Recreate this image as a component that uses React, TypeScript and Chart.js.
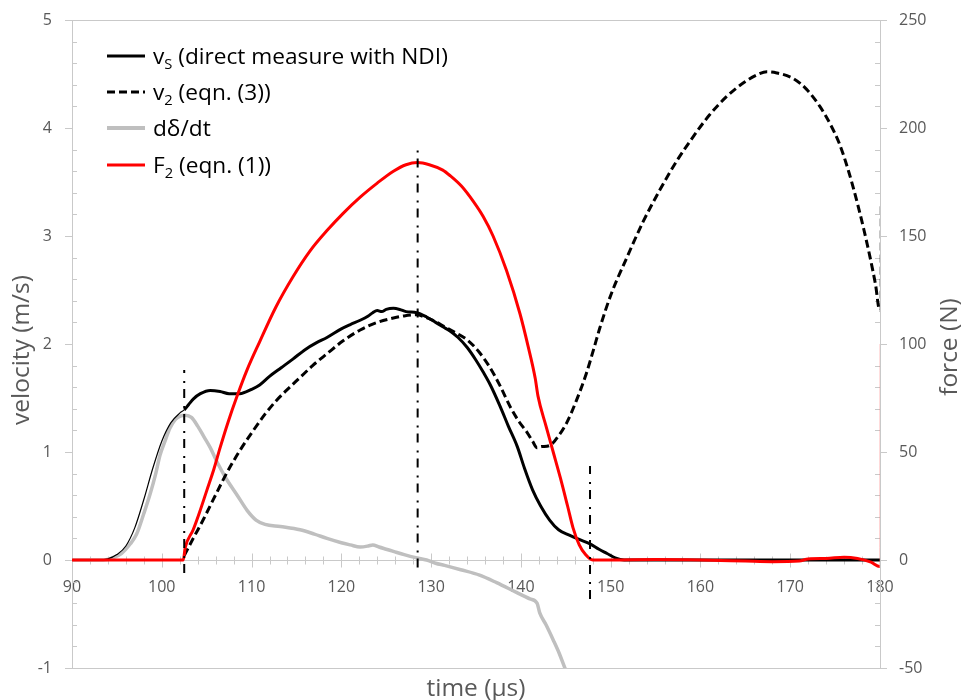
import React, { useEffect, useRef } from "react";
import { Chart, registerables } from "chart.js";

Chart.register(...registerables);

// ---------- DATA ----------
// v_S (direct measure with NDI), m/s
const vsTime = [90, 93, 94, 95, 96, 97, 98, 99, 100, 101, 102, 102.5, 103, 103.5, 104.3, 105.4, 106.5, 107.5, 108.7, 110, 110.9, 112, 113.3, 114.6, 116, 117.2, 118.4, 120, 121, 122.1, 123, 123.5, 124, 124.5, 125, 125.8, 126.5, 127.2, 128.4, 129.5, 130.5, 131.3, 132.1, 133, 134, 135, 135.8, 136.6, 137.7, 138.6, 139.6, 140.4, 141.3, 142.2, 143.2, 144.2, 145.4, 146.5, 147.7, 148.7, 149.6, 150.5, 151.5, 180];
const vsVal = [0, 0, 0.01, 0.05, 0.13, 0.3, 0.56, 0.85, 1.1, 1.27, 1.36, 1.39, 1.44, 1.49, 1.54, 1.57, 1.56, 1.54, 1.54, 1.58, 1.62, 1.7, 1.78, 1.86, 1.95, 2.01, 2.06, 2.14, 2.18, 2.22, 2.26, 2.29, 2.31, 2.3, 2.32, 2.33, 2.32, 2.3, 2.29, 2.25, 2.2, 2.16, 2.12, 2.06, 1.97, 1.85, 1.74, 1.62, 1.42, 1.24, 1.05, 0.85, 0.65, 0.5, 0.37, 0.28, 0.23, 0.19, 0.15, 0.1, 0.06, 0.02, 0, 0];

// v_2 (eqn. (3)), m/s
const v2Time = [102.5, 103.5, 104.6, 105.8, 107.2, 108.6, 110.2, 111.5, 112.8, 114, 115.4, 116.8, 118.4, 120.2, 122.1, 124, 125.8, 127, 128.4, 129.3, 130.2, 131.5, 132.8, 134, 135.3, 136.5, 137.7, 138.8, 139.8, 140.7, 141.3, 141.8, 142.3, 143.2, 144.2, 145.1, 146.2, 147.3, 148.1, 148.8, 150, 151.8, 153.6, 155.5, 157.4, 159.2, 161, 162.9, 165, 166.5, 167.4, 168.5, 170.3, 171.8, 173.3, 174.5, 175.5, 176.5, 177.4, 178.2, 178.9, 179.5, 179.97, 180];
const v2Val = [0.04, 0.2, 0.37, 0.57, 0.8, 1.0, 1.2, 1.35, 1.48, 1.58, 1.69, 1.8, 1.91, 2.03, 2.13, 2.2, 2.24, 2.26, 2.27, 2.25, 2.22, 2.16, 2.1, 2.04, 1.93, 1.79, 1.61, 1.42, 1.28, 1.18, 1.1, 1.04, 1.05, 1.06, 1.15, 1.27, 1.48, 1.73, 1.95, 2.15, 2.45, 2.8, 3.13, 3.43, 3.7, 3.92, 4.12, 4.29, 4.43, 4.5, 4.52, 4.51, 4.46, 4.36, 4.2, 4.03, 3.85, 3.6, 3.33, 3.06, 2.8, 2.55, 2.31, 3.3];

// dδ/dt, m/s
const ddtTime = [90, 93.5, 94.5, 95.5, 96.5, 97.2, 98, 98.7, 99.3, 99.8, 100.4, 100.9, 101.5, 102, 102.6, 103.3, 104, 104.7, 105.4, 106.2, 107.2, 108.4, 109.5, 110.5, 111.5, 113.2, 115.4, 117, 118.4, 120, 121, 122.1, 123, 123.5, 124.2, 125, 125.8, 127, 128.4, 129.5, 130.5, 131.5, 133.3, 135.4, 137.3, 139.5, 141, 141.8, 142.1, 142.8, 143.6, 144.3, 144.9, 145.5];
const ddtVal = [0, 0, 0.02, 0.06, 0.15, 0.24, 0.43, 0.61, 0.79, 0.97, 1.11, 1.22, 1.3, 1.33, 1.34, 1.32, 1.24, 1.14, 1.04, 0.9, 0.75, 0.6, 0.46, 0.37, 0.33, 0.31, 0.28, 0.24, 0.2, 0.16, 0.14, 0.12, 0.13, 0.14, 0.12, 0.1, 0.08, 0.05, 0.02, 0, -0.03, -0.05, -0.09, -0.14, -0.21, -0.3, -0.36, -0.4, -0.49, -0.6, -0.74, -0.87, -1.0, -1.12];

// F_2 (eqn. (1)), N
const f2Time = [90, 102.4, 102.6, 103.5, 104.2, 105, 105.8, 106.5, 107.4, 108.4, 109.5, 110.9, 112.7, 114.6, 116.5, 118.4, 120.2, 122.1, 124, 125.8, 127.2, 128.5, 129.8, 131.3, 132.1, 133.4, 134.7, 135.8, 136.9, 138.4, 139.9, 140.8, 141.6, 141.9, 142.8, 143.6, 144.4, 145.2, 145.8, 146.5, 147.2, 148, 150, 155, 160, 165, 168, 171, 172, 174, 176, 177.5, 179, 179.97, 180];
const f2Val = [0, 0, 5.5, 14, 22, 32, 42, 52, 64, 76, 88, 101, 117, 131, 143, 152.5, 160.5, 168, 174.5, 180, 183, 184, 183, 180.5, 178, 173, 166, 159, 150, 134, 114, 99, 84, 76, 62, 50, 38, 25, 15, 7, 2.5, 0, 0, 0.2, 0, -0.5, -0.8, -0.5, 0.5, 0.7, 1.3, 0.7, -1, -3, 100];

// dash-dot marker lines (time, bottom, top) in m/s
const markerTime = [102.5, 128.5, 147.7];
const markerBottom = [-0.12, -0.07, -0.36];
const markerTop = [1.76, 3.82, 0.87];

// axes
const xMin = 90, xMax = 180, xStep = 10, xMinor = 2;
const vMin = -1, vMax = 5, vStep = 1, vMinor = 0.2;
const fMin = -50, fMax = 250, fStep = 50;

const xTitle = "time (\u03bcs)";
const yTitle = "velocity (m/s)";
const y2Title = "force (N)";

const legendItems = [
  { main: "v", sub: "S", rest: " (direct measure with NDI)" },
  { main: "v", sub: "2", rest: " (eqn. (3))" },
  { main: "d\u03b4/dt", sub: "", rest: "" },
  { main: "F", sub: "2", rest: " (eqn. (1))" },
];

const zip = (xs: number[], ys: number[]) => xs.map((x, i) => ({ x, y: ys[i] }));

const FONT = "'Open Sans', 'DejaVu Sans', sans-serif";
const AXIS_GRAY = "#c9c9c9";
const TEXT_GRAY = "#595959";

const axesPlugin = {
  id: "excelAxes",
  beforeDatasetsDraw(chart: any) {
    const { ctx, chartArea: a, scales } = chart;
    const y = scales.y;
    const x = scales.x;
    const r = (v: number) => Math.round(v) + 0.5;
    ctx.save();
    ctx.strokeStyle = AXIS_GRAY;
    ctx.lineWidth = 1;
    ctx.beginPath();
    // frame
    ctx.moveTo(r(a.left), a.top); ctx.lineTo(r(a.left), a.bottom);
    ctx.moveTo(r(a.right), a.top); ctx.lineTo(r(a.right), a.bottom);
    ctx.moveTo(a.left, r(a.top)); ctx.lineTo(a.right, r(a.top));
    ctx.moveTo(a.left, r(a.bottom)); ctx.lineTo(a.right, r(a.bottom));
    const y0 = r(y.getPixelForValue(0));
    ctx.moveTo(a.left, y0); ctx.lineTo(a.right, y0);
    // y ticks
    const nMinor = Math.round((vMax - vMin) / vMinor);
    for (let i = 0; i <= nMinor; i++) {
      const v = vMin + i * vMinor;
      const py = r(y.getPixelForValue(v));
      const major = Math.abs(v - Math.round(v / vStep) * vStep) < 1e-6;
      if (major) {
        ctx.moveTo(a.left - 7, py); ctx.lineTo(a.left, py);
        ctx.moveTo(a.right, py); ctx.lineTo(a.right + 7, py);
      } else {
        ctx.moveTo(a.left, py); ctx.lineTo(a.left + 5, py);
        ctx.moveTo(a.right - 5, py); ctx.lineTo(a.right, py);
      }
    }
    // x ticks
    for (let t = xMin; t <= xMax + 1e-6; t += xMinor) {
      const px = r(x.getPixelForValue(t));
      const major = Math.abs((t - xMin) % xStep) < 1e-6;
      const h = major ? 7 : 4;
      ctx.moveTo(px, y0 - h); ctx.lineTo(px, y0 + h);
    }
    ctx.stroke();
    ctx.restore();
  },
  afterDraw(chart: any) {
    const { ctx, chartArea: a } = chart;
    ctx.save();
    // axis titles
    ctx.fillStyle = TEXT_GRAY;
    ctx.font = `100px ${FONT}`;
    const base = ctx.measureText(yTitle).width;
    const tSize = (100 * 150) / base;
    ctx.font = `${tSize}px ${FONT}`;
    ctx.textAlign = "center";
    ctx.textBaseline = "middle";
    ctx.save();
    ctx.translate(22, 350);
    ctx.rotate(-Math.PI / 2);
    ctx.fillText(yTitle, 0, 0);
    ctx.restore();
    ctx.save();
    ctx.translate(950, 347);
    ctx.rotate(-Math.PI / 2);
    ctx.fillText(y2Title, 0, 0);
    ctx.restore();
    ctx.fillText(xTitle, (a.left + a.right) / 2, 689);

    // legend
    const styles = [
      { color: "#000000", width: 3, dash: [] as number[] },
      { color: "#000000", width: 3, dash: [8, 4] },
      { color: "#bfbfbf", width: 4, dash: [] as number[] },
      { color: "#ff0000", width: 3, dash: [] as number[] },
    ];
    const rows = [56, 92, 128, 165];
    const measureItem = (it: any, size: number) => {
      ctx.font = `${size}px ${FONT}`;
      let w = ctx.measureText(it.main).width + ctx.measureText(it.rest).width;
      ctx.font = `${size * 0.65}px ${FONT}`;
      w += ctx.measureText(it.sub).width;
      return w;
    };
    const lSize = (100 * 295) / measureItem(legendItems[0], 100);
    legendItems.forEach((it, i) => {
      const yy = rows[i];
      const st = styles[i];
      ctx.beginPath();
      ctx.strokeStyle = st.color;
      ctx.lineWidth = st.width;
      ctx.setLineDash(st.dash);
      ctx.moveTo(107, yy);
      ctx.lineTo(145, yy);
      ctx.stroke();
      ctx.setLineDash([]);
      ctx.fillStyle = "#000000";
      ctx.textAlign = "left";
      ctx.textBaseline = "alphabetic";
      let cx = 153;
      const baseY = yy + lSize * 0.36;
      ctx.font = `${lSize}px ${FONT}`;
      ctx.fillText(it.main, cx, baseY);
      cx += ctx.measureText(it.main).width;
      if (it.sub) {
        ctx.font = `${lSize * 0.65}px ${FONT}`;
        ctx.fillText(it.sub, cx, baseY + lSize * 0.22);
        cx += ctx.measureText(it.sub).width;
      }
      ctx.font = `${lSize}px ${FONT}`;
      ctx.fillText(it.rest, cx, baseY);
    });
    ctx.restore();
  },
};

export default function App() {
  const ref = useRef<HTMLCanvasElement | null>(null);
  useEffect(() => {
    if (!ref.current) return;
    const lineDs = (label: string, data: any[], color: string, width: number, extra: any = {}) => ({
      label,
      data,
      borderColor: color,
      backgroundColor: color,
      borderWidth: width,
      pointRadius: 0,
      fill: false,
      cubicInterpolationMode: "monotone",
      ...extra,
    });
    const markers = markerTime.map((t, i) => ({
      label: "marker" + i,
      data: [
        { x: t, y: markerBottom[i] },
        { x: t, y: markerTop[i] },
      ],
      borderColor: "#000000",
      borderWidth: 2,
      borderDash: [9, 6, 2, 8],
      pointRadius: 0,
      fill: false,
      yAxisID: "y",
      order: -1,
    }));
    const isEndSpike = (c: any) => c.p0.parsed.x >= 179.95;
    const chart = new Chart(ref.current, {
      type: "line",
      data: {
        datasets: [
          ...markers,
          lineDs("F2 (eqn. (1))", zip(f2Time, f2Val), "#ff0000", 3, {
            yAxisID: "y2",
            order: 0,
            segment: {
              borderWidth: (c: any) => (isEndSpike(c) ? 1 : 3),
              borderColor: (c: any) => (isEndSpike(c) ? "rgba(255,120,120,0.45)" : "#ff0000"),
            },
          }),
          lineDs("vS (direct measure with NDI)", zip(vsTime, vsVal), "#000000", 3, {
            yAxisID: "y",
            order: 1,
            segment: {
              borderWidth: (c: any) => (c.p0.parsed.x < 102.4 ? 1.2 : 3),
            },
          }),
          lineDs("v2 (eqn. (3))", zip(v2Time, v2Val), "#000000", 3, {
            yAxisID: "y",
            order: 2,
            borderDash: [8, 4],
            segment: {
              borderWidth: (c: any) => (isEndSpike(c) ? 1 : 3),
              borderColor: (c: any) => (isEndSpike(c) ? "rgba(0,0,0,0.4)" : "#000000"),
            },
          }),
          lineDs("d\u03b4/dt", zip(ddtTime, ddtVal), "#bfbfbf", 3.5, { yAxisID: "y", order: 3 }),
        ] as any,
      },
      options: {
        animation: false,
        responsive: false,
        devicePixelRatio: 1,
        layout: { padding: { top: 20, bottom: 32, left: 0, right: 0 } },
        plugins: {
          legend: { display: false },
          tooltip: { enabled: false },
          title: { display: false },
        },
        scales: {
          x: {
            type: "linear",
            min: xMin,
            max: xMax,
            position: { y: 0 } as any,
            grid: { display: false, drawTicks: false },
            border: { display: false },
            ticks: {
              stepSize: xStep,
              autoSkip: false,
              maxRotation: 0,
              padding: 18,
              color: TEXT_GRAY,
              font: { family: FONT, size: 16 },
            },
          },
          y: {
            type: "linear",
            position: "left",
            min: vMin,
            max: vMax,
            grid: { display: false, drawTicks: true, tickLength: 20 },
            border: { display: false },
            ticks: {
              stepSize: vStep,
              padding: 0,
              color: TEXT_GRAY,
              font: { family: FONT, size: 16 },
            },
            afterFit: (s: any) => {
              s.width = 72;
            },
          },
          y2: {
            type: "linear",
            position: "right",
            min: fMin,
            max: fMax,
            grid: { display: false, drawTicks: true, tickLength: 19 },
            border: { display: false },
            ticks: {
              stepSize: fStep,
              padding: 0,
              color: TEXT_GRAY,
              font: { family: FONT, size: 16 },
            },
            afterFit: (s: any) => {
              s.width = 83;
            },
          },
        },
      } as any,
      plugins: [axesPlugin],
    });
    return () => chart.destroy();
  }, []);
  return (
    <div style={{ position: "fixed", left: 0, top: 0, width: 963, height: 700, background: "#ffffff" }}>
      <canvas ref={ref} width={963} height={700} style={{ width: 963, height: 700, display: "block" }} />
    </div>
  );
}
